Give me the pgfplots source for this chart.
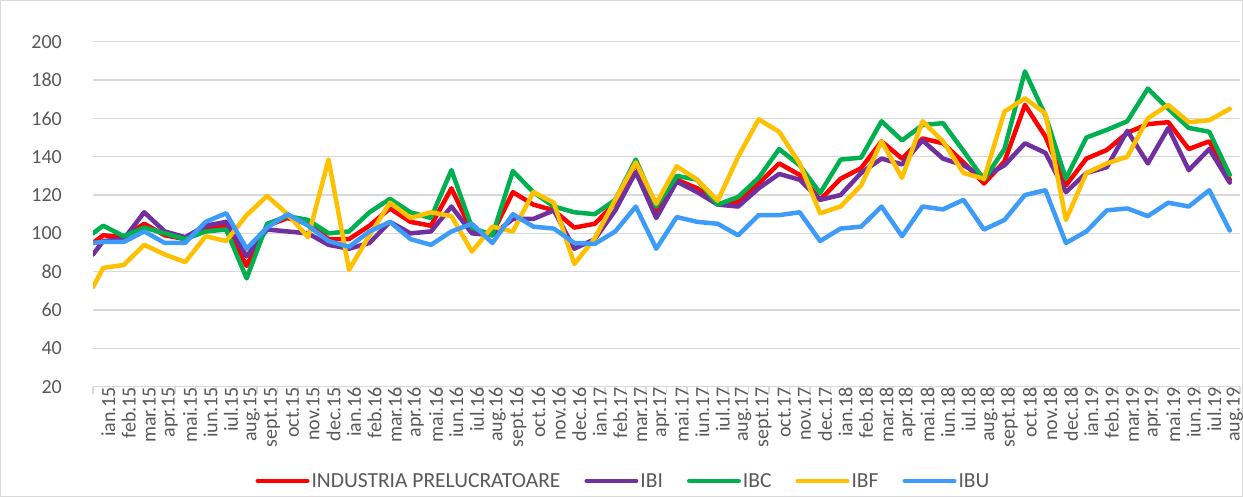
\documentclass[border=0pt]{standalone}
\usepackage{fontspec}
\setmainfont{Carlito}
\usepackage{pgfplots}
\pgfplotsset{compat=1.18}
\usepackage{pgfplotstable}
\definecolor{cred}{HTML}{FF0000}
\definecolor{cpur}{HTML}{7030A0}
\definecolor{cgrn}{HTML}{00B050}
\definecolor{cyel}{HTML}{FFC000}
\definecolor{cblu}{HTML}{3D9BFA}
\definecolor{gridc}{HTML}{D9D9D9}
\definecolor{txt}{HTML}{595959}

\pgfplotstableread{
x    red   pur   grn   yel   blu
-0.5 95    89    100   72    95
0    99    96    104   82    95.5
1    98    97    98.5  83.5  95.5
2    105   111   103   94    101
3    99    101   100   89    95
4    97    98    97    85    95
5    103   104   101   98.5  106
6    104   106   102   96    110.5
7    83    88    76.5  109.5 92
8    104   102   105   119.5 103
9    108   101   109   110   110
10   105   100   107   98    104
11   97    94    100   138.5 96
12   97    92    101   81    93
13   104   95    111   99    101
14   113   106   118   116   106
15   106   100   111   108   97
16   104   101   108   111   94
17   123.5 114   133   109   101
18   101   100   103   90.5  105
19   100   99    99    103.5 95
20   121.5 107.5 132.5 101   110
21   115   107.5 121.5 121.5 103.5
22   112   112   114   116   102.5
23   103   92    111   84    95
24   105   97    110   97.5  94.5
25   116   112   117.5 117.5 101
26   137   132   138.5 137   114
27   111   108   114   115.5 92
28   128   127   130   135   108.5
29   123.5 121.5 128   128   106
30   115.5 115   115   117   105
31   116.5 114   119   140   99
32   126   123.5 129   159.5 109.5
33   136.5 131   144   153   109.5
34   130.5 128   135.5 136.5 111
35   117.5 117.5 121   110.5 96
36   128.5 120   138.5 114   102.5
37   134   131.5 139.5 125   103.5
38   148   139   158.5 148   114
39   139   136   148.5 129   98.5
40   149.5 148.5 156.5 158.5 114
41   147   139   157.5 148   112.5
42   137   135.5 143   131.5 117.5
43   126   129.5 128   128.5 102
44   137.5 135.5 144   163.5 107
45   167   147   184.5 170.5 120
46   150.5 142   161.5 162.5 122.5
47   125   121.5 128.5 107   95
48   139   131.5 150   131.5 101
49   143.5 134.5 154   136.5 112
50   152.5 153.5 158.5 140   113
51   157   136.5 175.5 160   109
52   158   155   165   167   116
53   144   133   155   158   114
54   148   144   153   159   122.5
55   128   126.5 130.5 165   101.5
}\data

\begin{document}
\begin{tikzpicture}
\path[use as bounding box] (0pt,0pt) rectangle (1243pt,497pt);
\draw[gridc, line width=1pt] (0.5pt,0.5pt) rectangle (1242.5pt,496.5pt);
\begin{axis}[
  at={(93pt,110.3pt)}, anchor=south west,
  scale only axis, width=1147pt, height=345pt,
  xmin=-0.5, xmax=55.5, ymin=20, ymax=200,
  ytick={20,40,...,200},
  xtick={0,...,55},
  xticklabels={ian.15,feb.15,mar.15,apr.15,mai.15,iun.15,iul.15,aug.15,sept.15,oct.15,nov.15,dec.15,
    ian.16,feb.16,mar.16,apr.16,mai.16,iun.16,iul.16,aug.16,sept.16,oct.16,nov.16,dec.16,
    ian.17,feb.17,mar.17,apr.17,mai.17,iun.17,iul.17,aug.17,sept.17,oct.17,nov.17,dec.17,
    ian.18,feb.18,mar.18,apr.18,mai.18,iun.18,iul.18,aug.18,sept.18,oct.18,nov.18,dec.18,
    ian.19,feb.19,mar.19,apr.19,mai.19,iun.19,iul.19,aug.19},
  minor xtick={-0.5,0.5,...,55.5},
  xtick pos=bottom, ytick pos=left,
  tick align=outside,
  major tick length=0pt, minor tick length=7pt,
  minor tick style={gridc, line width=1.5pt},
  axis line style={draw=none},
  ymajorgrids, major grid style={gridc, line width=1.5pt},
  /pgf/number format/assume math mode=true,
  yticklabel style={font=\fontsize{20}{24}\selectfont, text=txt, anchor=east, inner sep=0pt, xshift=-31pt},
  xticklabel style={font=\fontsize{20}{24}\selectfont, text=txt, rotate=90, anchor=east, inner sep=0pt, yshift=-5pt},
  legend style={at={(0.4625,-0.2733)}, anchor=center, draw=none, fill=none,
    legend columns=5, font=\fontsize{21.5}{25}\selectfont, text=txt,
    /tikz/every even column/.append style={column sep=22pt}},
  legend image code/.code={\draw[#1, line width=4.5pt, line cap=round] (2.25pt,0pt) -- (51.75pt,0pt);},
  every axis plot/.append style={line width=4.5pt, line join=round, line cap=round, mark=none},
]
\addplot[cred] table[x=x, y=red] {\data};
\addlegendentry{INDUSTRIA PRELUCRATOARE}
\addplot[cpur] table[x=x, y=pur] {\data};
\addlegendentry{IBI}
\addplot[cgrn] table[x=x, y=grn] {\data};
\addlegendentry{IBC}
\addplot[cyel] table[x=x, y=yel] {\data};
\addlegendentry{IBF}
\addplot[cblu] table[x=x, y=blu] {\data};
\addlegendentry{IBU}
\end{axis}
\end{tikzpicture}
\end{document}
